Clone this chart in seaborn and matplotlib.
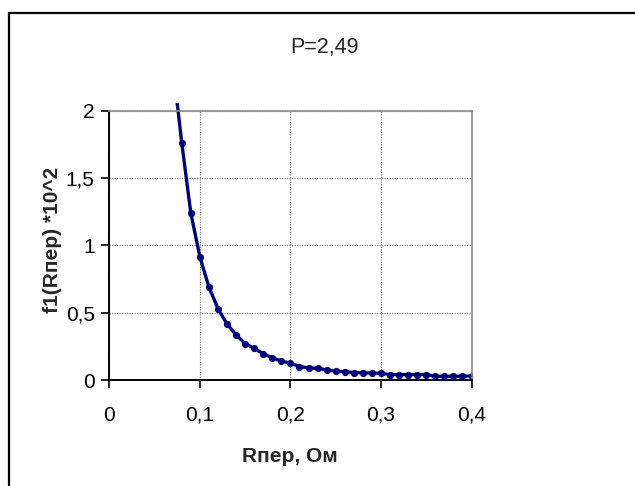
import matplotlib
matplotlib.use("Agg")
import matplotlib.pyplot as plt
from matplotlib.patches import Rectangle
import seaborn as sns
import pandas as pd

# ---- data ----
r_per = [0.07, 0.08, 0.09, 0.10, 0.11, 0.12, 0.13, 0.14, 0.15, 0.16, 0.17,
         0.18, 0.19, 0.20, 0.21, 0.22, 0.23, 0.24, 0.25, 0.26, 0.27, 0.28,
         0.29, 0.30, 0.31, 0.32, 0.33, 0.34, 0.35, 0.36, 0.37, 0.38, 0.39, 0.40]
f1 = [2.35, 1.76, 1.24, 0.915, 0.69, 0.53, 0.415, 0.335, 0.27, 0.235, 0.195,
      0.165, 0.14, 0.125, 0.10, 0.09, 0.087, 0.075, 0.065, 0.063, 0.055, 0.053,
      0.052, 0.05, 0.04, 0.04, 0.04, 0.04, 0.04, 0.028, 0.028, 0.028, 0.028, 0.03]
x_ticks = [0, 0.1, 0.2, 0.3, 0.4]
x_tick_labels = ["0", "0,1", "0,2", "0,3", "0,4"]
y_ticks = [0, 0.5, 1, 1.5, 2]
y_tick_labels = ["0", "0,5", "1", "1,5", "2"]
title = "P=2,49"
x_label = "Rпер, Ом"
y_label = "f1(Rпер) *10^2"

df = pd.DataFrame({"r": r_per, "f": f1})

sns.set_style("white")
plt.rcParams["font.family"] = ["Liberation Sans", "DejaVu Sans"]

W, H = 635, 486
fig = plt.figure(figsize=(W / 100, H / 100), dpi=100)
ax = fig.add_axes([109.3 / W, 1 - 380 / H, (471.5 - 109.3) / W, (380 - 110.5) / H])

sns.lineplot(data=df, x="r", y="f", ax=ax, color="#000080", linewidth=2.4,
             marker="o", markersize=5.2, markeredgewidth=0, estimator=None,
             sort=False)

ax.set_xlim(0, 0.4)
ax.set_ylim(0, 2)
ax.set_xticks(x_ticks)
ax.set_xticklabels(x_tick_labels)
ax.set_yticks(y_ticks)
ax.set_yticklabels(y_tick_labels)

# clip the curve slightly above the plot area like the original
clip = Rectangle((0, 0), 1, 1.026, transform=ax.transAxes, visible=False)
ax.add_patch(clip)
for ln in ax.lines:
    ln.set_clip_path(clip)

ax.grid(True, color="#8c8c8c", linestyle=(0, (1, 1)), linewidth=0.9)
ax.set_axisbelow(True)

for s in ["left", "bottom"]:
    ax.spines[s].set_color("black")
    ax.spines[s].set_linewidth(1.4)
for s in ["top", "right"]:
    ax.spines[s].set_color("#8c8c8c")
    ax.spines[s].set_linewidth(1.2)

ax.tick_params(axis="both", which="major", direction="out", length=5.5,
               width=1.2, color="black", labelsize=15, labelcolor="black")
ax.tick_params(axis="x", pad=13, bottom=True)
ax.tick_params(axis="y", pad=5, left=True)

ax.set_xlabel("")
ax.set_ylabel("")
fig.text(290 / W, 1 - 456 / H, x_label, ha="center", va="center",
         fontsize=15, fontweight="bold")
fig.text(53 / W, 1 - 240 / H, y_label, ha="center", va="center",
         rotation=90, fontsize=15, fontweight="bold")
fig.text(324 / W, 1 - 48 / H, title, ha="center", va="center", fontsize=15.5)

# outer chart border (left and top visible)
fig.add_artist(Rectangle((8.5 / W, -0.5), 2, (H - 13.5) / H + 0.5,
                         transform=fig.transFigure, fill=False,
                         edgecolor="black", linewidth=1.6))

fig.savefig("out.png", dpi=100)
